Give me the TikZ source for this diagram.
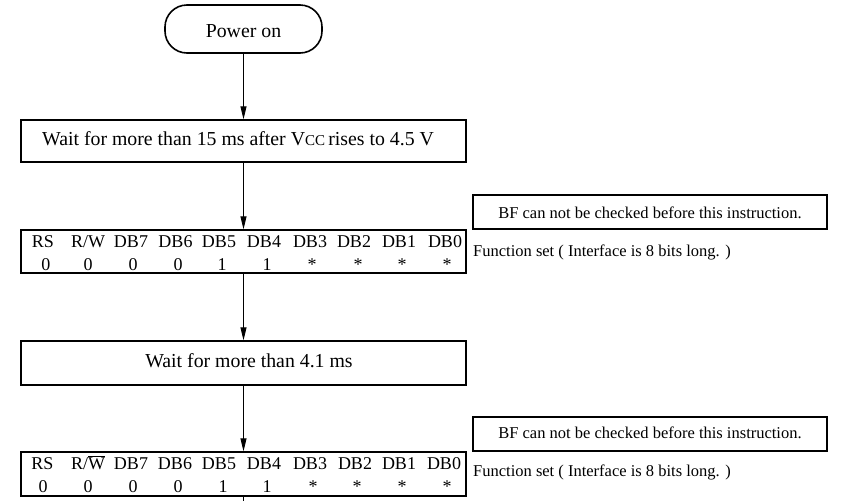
\documentclass[tikz,border=0pt]{standalone}
\usepackage{fontspec}
\setmainfont{Liberation Serif}
\usetikzlibrary{arrows.meta}
\begin{document}
\begin{tikzpicture}[x=1pt,y=-1pt,
  box/.style={draw,line width=1.3pt,minimum width=445pt,inner sep=0pt},
  note/.style={draw,line width=1.2pt,minimum width=354pt,minimum height=34pt,inner sep=0pt},
  arr/.style={-{Triangle[length=13pt,width=6pt]},line width=0.9pt},
  plain/.style={line width=0.9pt},
  txt/.style={anchor=base,inner sep=0pt},
  big/.style={txt,font=\fontsize{19.8}{22}\selectfont},
  lbl/.style={txt,font=\fontsize{18}{20}\selectfont},
  small/.style={txt,font=\fontsize{16.5}{18}\selectfont}]
\useasboundingbox (0,0) rectangle (852,501);

% Power on
\node[draw,line width=1.6pt,rounded corners=22pt,minimum width=157pt,minimum height=48pt,inner sep=0pt] (power) at (243.5,29) {};
\node[big] (powert) at (243.5,37) {Power on};

% Wait 15 ms
\node[box,minimum height=42pt] (wait1) at (243.5,141) {};
\node[big,anchor=base west] (wait1t) at (42,145) {Wait for more than 15 ms after V{\fontsize{15}{18}\selectfont CC}\,rises to 4.5 V};

% Table 1
\node[box,minimum height=43pt] (tab1) at (243.5,251.5) {};
\foreach \n/\x/\t in {a/43/RS,b/88/{R/W},c/131/DB7,d/175.5/DB6,e/219/DB5,f/264/DB4,g/310/DB3,h/354/DB2,i/399/DB1,j/445/DB0}
  \node[lbl] (t1l\n) at (\x,247) {\t};
\foreach \n/\x/\t in {a/46/0,b/88/0,c/133/0,d/178/0,e/222/1,f/267/1,g/312/*,h/358/*,i/402/*,j/447/*}
  \node[lbl] (t1v\n) at (\x,270) {\t};
\node[note] (bf1) at (650,212) {};
\node[small] (bf1t) at (650,218) {BF can not be checked before this instruction.};
\node[small,anchor=base west] (fs1) at (473,256) {Function set ( Interface is 8 bits long. )};

% Wait 4.1 ms
\node[box,minimum height=44pt] (wait2) at (243.5,363) {};
\node[big] (wait2t) at (249,367) {Wait for more than 4.1 ms};

% Table 2
\node[box,minimum height=44pt] (tab2) at (243.5,474) {};
\foreach \n/\x/\t in {a/42.5/RS,c/131/DB7,d/175/DB6,e/219/DB5,f/264/DB4,g/310/DB3,h/355/DB2,i/399/DB1,j/444/DB0}
  \node[lbl] (t2l\n) at (\x,469) {\t};
\node[lbl] (t2lb) at (88,469) {R/\smash{$\overline{\mbox{W}}$}};
\foreach \n/\x/\t in {a/43/0,b/88/0,c/133/0,d/178/0,e/223/1,f/267/1,g/313/*,h/357/*,i/402/*,j/447/*}
  \node[lbl] (t2v\n) at (\x,492) {\t};
\node[note] (bf2) at (650,434) {};
\node[small] (bf2t) at (650,438) {BF can not be checked before this instruction.};
\node[small,anchor=base west] (fs2) at (473,476) {Function set ( Interface is 8 bits long. )};

\coordinate (end) at (243.5,501);

% connectors
\draw[arr] (power) -- (wait1);
\draw[arr] (wait1) -- (tab1);
\draw[arr] (tab1) -- (wait2);
\draw[arr] (wait2) -- (tab2);
\draw[plain] (tab2) -- (end);
\end{tikzpicture}
\end{document}
